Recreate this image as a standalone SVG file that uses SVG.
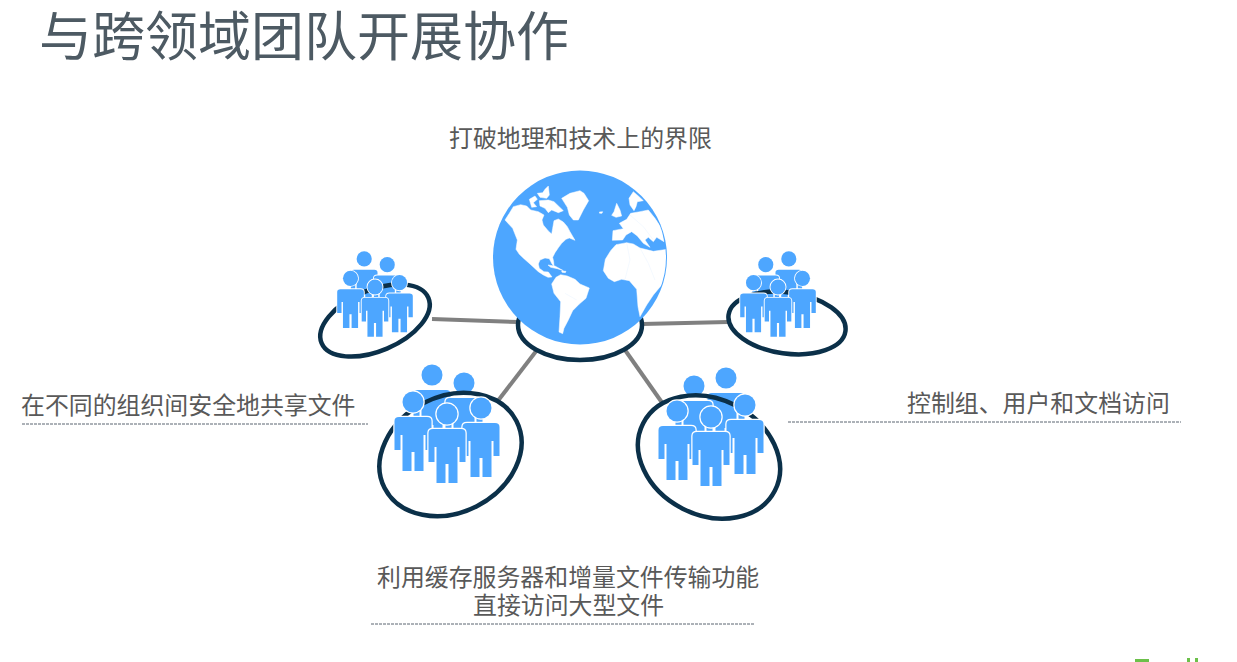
<svg xmlns="http://www.w3.org/2000/svg" width="1237" height="662" viewBox="0 0 1237 662">
<style>
text{font-family:"Noto Sans CJK SC","Liberation Sans",sans-serif;fill:#595959;font-size:23.9px}
.title{font-size:53px;fill:#4d5a63}
.lead{stroke:#5a6470;stroke-width:1;stroke-dasharray:3 1;fill:none}
.conn{stroke:#808080;stroke-width:4;fill:none}
.ring{stroke:#0b3049;stroke-width:4.5;fill:none}
.p{fill:#4da6ff;stroke:#fff;stroke-width:2.5;paint-order:stroke}
.p circle{stroke-width:5}
.land{fill:#fff;stroke:#fff;stroke-width:1.5;stroke-linejoin:round}
.border{fill:none;stroke:#e8f3ff;stroke-width:1.5}
.mark{fill:#6cc04a}
</style>
<defs>
<clipPath id="gclip"><circle cx="300" cy="292.5" r="258"/></clipPath>
<g id="person"><circle cx="0" cy="0" r="10.5"/><path d="M-14 15H14Q18.5 15 18.5 19V48H12.5V33H10.5V69H1.5V50H-1.5V69H-10.5V33H-12.5V48H-18.5V19Q-18.5 15 -14 15Z"/></g>
<g id="back" class="p"><use href="#person" x="-15" y="-39"/><use href="#person" x="17" y="-31"/></g>
<g id="front" class="p"><use href="#person" x="-34" y="-12"/><use href="#person" x="34" y="-6"/><use href="#person" x="0" y="0"/></g>
</defs>
<rect width="1237" height="662" fill="#fff"/>
<g id="connectors"><path class="conn" d="M432 319L518 322"/><path class="conn" d="M642 324L728 322"/><path class="conn" d="M497 402L537 350"/><path class="conn" d="M663 404L625 350"/></g>
<g id="globe">
<ellipse class="ring" style="fill:#fff" cx="580" cy="325" rx="62" ry="35"/>
<circle cx="580" cy="257.5" r="87" fill="#4da6ff"/>
<g transform="translate(480 160) scale(.33333)" clip-path="url(#gclip)">
<path class="land" d="M75 180L88 160L100 140L122 134L140 138L152 150L175 155L192 165L186 180L190 195L205 213L215 222L218 205L222 182L235 177L250 186L262 200L270 215L285 241L268 234L258 238L245 250L236 262L225 278L218 292L221 305L222 318L216 312L208 296L195 294L180 300L175 312L178 325L192 335L205 336L216 351L204 352L190 345L175 335L150 312L132 296L118 283L108 268L112 240L98 205Z"/>
<path class="land" d="M148 118L165 108L172 118L160 128L170 140L155 142Z"/>
<path class="land" d="M172 100L188 98L195 88L205 78L208 105L200 115L180 112Z"/>
<path class="land" d="M178 122L205 120L222 125L250 152L235 158L215 150L205 158L195 145L180 138Z"/>
<path class="land" d="M245 115L270 100L300 92L312 100L326 122L310 150L295 180L280 180L268 165L262 142Z"/>
<path class="land" d="M358 156L368 155L366 160L359 160Z"/>
<path class="land" d="M410 130L420 150L425 168L408 172L395 166L402 155Z"/>
<path class="land" d="M447 115L460 95L475 108L490 122L472 125L468 140L462 152L450 135Z"/>
<path class="land" d="M418 190L440 178L452 160L480 155L505 150L525 175L545 205L552 245L530 232L520 245L505 232L495 240L510 262L490 250L472 228L455 215L438 225L428 240L397 241L399 212L430 206Z"/>
<path class="land" d="M370 332L376 298L392 272L408 254L440 248L460 252L480 264L520 274L560 268L560 320L545 375L520 405L500 435L480 470L474 440L470 388L448 362L425 358L403 365L385 355Z"/>
<path class="land" d="M215 372L228 352L242 344L262 348L285 358L300 372L328 384L318 415L298 432L278 452L265 480L252 505L248 521L237 516L240 470L242 425L222 400Z"/>
<path class="land" d="M204 315L225 318L250 332L232 326L212 322Z"/>
<path class="land" d="M245 333L258 334L256 338L246 337Z"/>
<path class="border" d="M440 248L450 300L435 358M480 264L505 310L525 360M450 165L490 200L520 240M255 400L290 420"/>
</g>
</g>
<g id="group-tl"><use href="#back" transform="translate(375 287) scale(.72)"/><ellipse class="ring" cx="375" cy="320.5" rx="58" ry="30.5" transform="rotate(-23 375 320.5)"/><use href="#front" transform="translate(375 287) scale(.72)"/></g>
<g id="group-tr"><use href="#back" transform="translate(778 287) scale(-.72 .72)"/><ellipse class="ring" cx="787" cy="323" rx="59" ry="30.5" transform="rotate(8 787 323)"/><use href="#front" transform="translate(778 287) scale(-.72 .72)"/></g>
<g id="group-bl"><use href="#back" transform="translate(447 414)"/><ellipse class="ring" cx="450.5" cy="454.5" rx="74" ry="58" transform="rotate(-27 450.5 454.5)"/><use href="#front" transform="translate(447 414)"/></g>
<g id="group-br"><use href="#back" transform="translate(711 417) scale(-1 1)"/><ellipse class="ring" cx="709" cy="457" rx="74" ry="58" transform="rotate(27 709 457)"/><use href="#front" transform="translate(711 417) scale(-1 1)"/></g>
<g id="labels">
<text class="title" x="39" y="56">与跨领域团队开展协作</text>
<text x="449" y="147">打破地理和技术上的界限</text>
<text x="21" y="414">在不同的组织间安全地共享文件</text>
<text x="907" y="412">控制组、用户和文档访问</text>
<text x="377" y="586">利用缓存服务器和增量文件传输功能</text>
<text x="473" y="614">直接访问大型文件</text>
<path class="lead" d="M22 424H368M788 422H1181M371 624H754"/>
</g>
<g id="corner-mark"><rect class="mark" x="1135" y="659" width="14" height="3"/><rect class="mark" x="1187" y="658" width="3" height="4"/><rect class="mark" x="1195" y="658" width="3" height="4"/></g>
</svg>
